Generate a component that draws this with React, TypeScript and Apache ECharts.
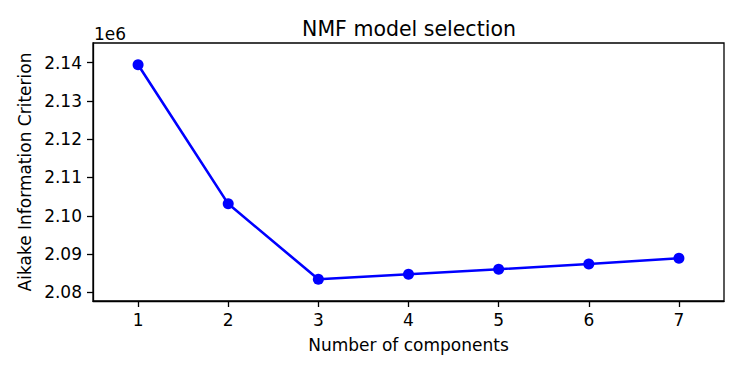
import React, { useEffect, useRef } from "react";
import * as echarts from "echarts";

const components = [1, 2, 3, 4, 5, 6, 7];
const aicValues = [2139480, 2103110, 2083400, 2084710, 2086020, 2087410, 2088900];
const xTicks = [1, 2, 3, 4, 5, 6, 7];
const yTicks = [2080000, 2090000, 2100000, 2110000, 2120000, 2130000, 2140000];

const FONT = "DejaVu Sans";

export default function App() {
  const ref = useRef<HTMLDivElement>(null);
  useEffect(() => {
    if (!ref.current) return;
    const chart = echarts.init(ref.current, null, { renderer: "svg" });
    chart.setOption({
      animation: false,
      backgroundColor: "#ffffff",
      title: {
        text: "NMF model selection",
        left: 404,
        top: 13,
        textAlign: "center",
        textStyle: { fontFamily: FONT, fontSize: 20.5, fontWeight: "normal", color: "#000" },
      },
      grid: {
        left: 93,
        right: 23,
        top: 43,
        bottom: 73,
        show: true,
        borderColor: "#000",
        borderWidth: 1.3,
        backgroundColor: "transparent",
      },
      xAxis: {
        type: "value",
        min: 0.5,
        max: 7.5,
        name: "Number of components",
        nameLocation: "middle",
        nameGap: 35,
        nameTextStyle: { fontFamily: FONT, fontSize: 17, color: "#000" },
        axisLine: { show: true, lineStyle: { color: "#000", width: 1.3 } },
        axisTick: { show: true, length: 6, lineStyle: { color: "#000", width: 1.3 }, customValues: xTicks },
        axisLabel: {
          fontFamily: FONT,
          fontSize: 17,
          color: "#000",
          margin: 10,
          customValues: xTicks,
          formatter: (v: number) => String(v),
        },
        splitLine: { show: false },
      },
      yAxis: {
        type: "value",
        min: 2077720,
        max: 2145150,
        name: "Aikake Information Criterion",
        nameLocation: "middle",
        nameGap: 59,
        nameTextStyle: { fontFamily: FONT, fontSize: 17, color: "#000" },
        axisLine: { show: true, lineStyle: { color: "#000", width: 1.3 } },
        axisTick: { show: true, length: 6, lineStyle: { color: "#000", width: 1.3 }, customValues: yTicks },
        axisLabel: {
          fontFamily: FONT,
          fontSize: 17,
          color: "#000",
          margin: 11,
          customValues: yTicks,
          formatter: (v: number) => (v / 1e6).toFixed(2),
        },
        splitLine: { show: false },
      },
      graphic: [
        {
          type: "text",
          left: 94,
          top: 25,
          style: { text: "1e6", fontFamily: FONT, fontSize: 17, fill: "#000" },
        },
      ],
      series: [
        {
          type: "line",
          data: components.map((c, i) => [c, aicValues[i]]),
          symbol: "circle",
          symbolSize: 11,
          lineStyle: { color: "#0000ff", width: 2.6 },
          itemStyle: { color: "#0000ff" },
          z: 5,
        },
      ],
    });
    return () => chart.dispose();
  }, []);
  return (
    <div
      ref={ref}
      style={{ position: "fixed", left: 0, top: 0, width: 747, height: 374 }}
    />
  );
}
